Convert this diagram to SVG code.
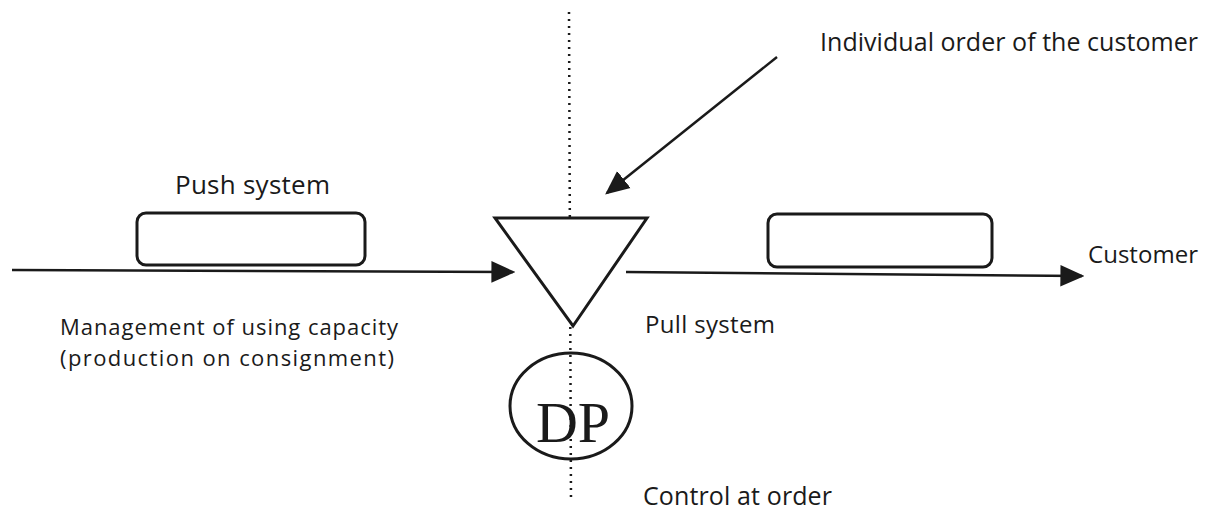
<svg xmlns="http://www.w3.org/2000/svg" width="1211" height="513" viewBox="0 0 1211 513">
  <style>
    .lbl { font-family: "Open Sans", Lato, "Liberation Sans", sans-serif; font-size: 24px; fill: #1a1a1a; }
    .big { font-size: 26px; }
    .mid { font-size: 25px; }
    .two { font-size: 22px; }
    .ln { stroke: #1a1a1a; stroke-width: 2.5; fill: none; }
    .box { stroke: #1a1a1a; stroke-width: 3; fill: #fff; }
    .dp { font-family: "Liberation Serif", "DejaVu Serif", serif; font-size: 58px; fill: #1a1a1a; }
  </style>
  <defs>
    <marker id="headL" viewBox="0 0 10 10" refX="9" refY="5" markerWidth="24" markerHeight="24" markerUnits="userSpaceOnUse" orient="auto">
      <path d="M0,0.5 L10,5 L0,9.5 Z" fill="#1a1a1a"/>
    </marker>
  </defs>
  <rect width="1211" height="513" fill="#fff"/>

  <!-- decoupling axis -->
  <line x1="569" y1="12" x2="571" y2="502" stroke="#1a1a1a" stroke-width="2.5" stroke-dasharray="2 5"/>

  <g id="connectors">
    <line class="ln" x1="12" y1="270" x2="513" y2="272" marker-end="url(#headL)"/>
    <line class="ln" x1="626" y1="272" x2="1082" y2="276" marker-end="url(#headL)"/>
    <line class="ln" x1="777" y1="57" x2="607" y2="193" marker-end="url(#headL)"/>
  </g>

  <g id="push-box">
    <rect class="box" x="137" y="213" width="228" height="52" rx="9"/>
  </g>
  <g id="pull-box">
    <rect class="box" x="768" y="214" width="224" height="53" rx="9"/>
  </g>
  <g id="decoupling-point">
    <path d="M495,218 L647,218 L573,326 Z" fill="#fff" stroke="#1a1a1a" stroke-width="3" stroke-linejoin="miter"/>
  </g>
  <g id="dp">
    <ellipse cx="571" cy="406" rx="61" ry="53" fill="none" stroke="#1a1a1a" stroke-width="3"/>
    <text class="dp" x="573" y="442" text-anchor="middle">DP</text>
  </g>

  <g id="labels">
    <text class="lbl big" x="175" y="194" textLength="155">Push system</text>
    <text class="lbl mid" x="820" y="51" textLength="378">Individual order of the customer</text>
    <text class="lbl" x="1088" y="263" textLength="110">Customer</text>
    <text class="lbl two" x="60" y="335" textLength="338">Management of using capacity</text>
    <text class="lbl two" x="60" y="366" textLength="334">(production on consignment)</text>
    <text class="lbl" x="645" y="333" textLength="130">Pull system</text>
    <text class="lbl mid" x="643" y="505" textLength="189">Control at order</text>
  </g>
</svg>
